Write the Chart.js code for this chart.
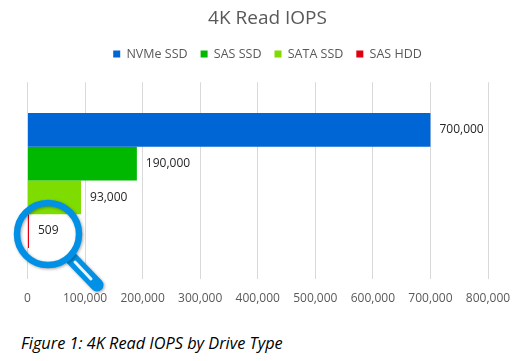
<!DOCTYPE html>
<html>
<head>
<meta charset="utf-8">
<style>
    html, body { margin: 0; padding: 0; background: #fff; }
    #wrap { position: relative; width: 529px; height: 361px; overflow: hidden; }
    canvas { display: block; }
    #caption {
        position: absolute; left: 21px; top: 332px; margin: 0;
        font: italic 16.3px "Open Sans", sans-serif; color: #000; white-space: nowrap;
    }
</style>
<script src="https://cdn.jsdelivr.net/npm/chart.js@4"></script>
</head>
<body>
<div id="wrap">
    <canvas id="chart" width="529" height="319"></canvas>
    <p id="caption">Figure 1: 4K Read IOPS by Drive Type</p>
</div>
<script>
const categories = ["4K Read IOPS"];
const seriesNames = ["NVMe SSD", "SAS SSD", "SATA SSD", "SAS HDD"];
const seriesValues = [[700000], [190000], [93000], [509]];
const seriesColors = ["#0066D6", "#00B800", "#7FDC00", "#E00012"];
const xMax = 800000;
const xStep = 100000;

const fontFamily = "'Open Sans', sans-serif";

// value labels just right of each bar
const barLabels = {
    id: "barLabels",
    afterDatasetsDraw(chart) {
        const ctx = chart.ctx;
        ctx.save();
        ctx.font = "12px " + fontFamily;
        ctx.fillStyle = "#262626";
        ctx.textBaseline = "middle";
        chart.data.datasets.forEach((ds, i) => {
            const bar = chart.getDatasetMeta(i).data[0];
            ctx.fillText(ds.data[0].toLocaleString("en-US"), bar.x + 9, bar.y);
        });
        ctx.restore();
    },
};

// magnifying glass over the HDD bar
const magnifier = {
    id: "magnifier",
    afterDraw(chart) {
        const ctx = chart.ctx;
        const bar = chart.getDatasetMeta(3).data[0];
        const cx = chart.scales.x.getPixelForValue(0) + 20.5;
        const cy = bar.y + 3;
        ctx.save();
        ctx.shadowColor = "rgba(0,0,0,0.35)";
        ctx.shadowBlur = 3;
        ctx.shadowOffsetX = 1;
        ctx.shadowOffsetY = 1;
        ctx.strokeStyle = "#0091E6";
        ctx.lineCap = "round";
        ctx.lineWidth = 13;
        ctx.beginPath();
        ctx.moveTo(cx + 24, cy + 25);
        ctx.lineTo(cx + 49, cy + 51);
        ctx.stroke();
        ctx.lineWidth = 6.5;
        ctx.beginPath();
        ctx.arc(cx, cy, 31, 0, Math.PI * 2);
        ctx.stroke();
        ctx.shadowColor = "transparent";
        ctx.strokeStyle = "#EAF6FC";
        ctx.lineWidth = 3;
        ctx.beginPath();
        ctx.moveTo(cx + 27, cy + 28);
        ctx.lineTo(cx + 43, cy + 45);
        ctx.stroke();
        ctx.restore();
    },
};

new Chart(document.getElementById("chart"), {
    type: "bar",
    data: {
        labels: categories,
        datasets: seriesNames.map((name, i) => ({
            label: name,
            data: seriesValues[i],
            backgroundColor: seriesColors[i],
            categoryPercentage: 0.687,
            barPercentage: 1,
            minBarLength: 1.5,
        })),
    },
    options: {
        indexAxis: "y",
        responsive: false,
        animation: false,
        layout: {
            padding: { left: 6, right: 0, top: 7, bottom: 0 },
        },
        plugins: {
            tooltip: { enabled: false },
            title: {
                display: true,
                text: "4K Read IOPS",
                color: "#595959",
                font: { family: fontFamily, size: 19, weight: "400" },
                padding: { top: 0, bottom: 5 },
            },
            legend: {
                position: "top",
                labels: {
                    boxWidth: 7,
                    boxHeight: 7,
                    padding: 13,
                    color: "#595959",
                    font: { family: fontFamily, size: 12.5 },
                },
            },
        },
        scales: {
            x: {
                min: 0,
                max: xMax,
                ticks: {
                    stepSize: xStep,
                    maxRotation: 0,
                    autoSkip: false,
                    padding: 13,
                    color: "#595959",
                    font: { family: fontFamily, size: 12 },
                    callback: (v) => v.toLocaleString("en-US"),
                },
                grid: { color: "#D9D9D9", drawTicks: false },
                border: { display: false },
            },
            // empty axis, only holds the gap between legend and plot
            xTop: {
                axis: "x",
                position: "top",
                ticks: { display: false },
                grid: { display: false },
                border: { display: false },
                afterFit: (axis) => { axis.height = 12; },
            },
            y: {
                ticks: { display: false },
                grid: { display: false },
                border: { display: false },
                afterFit: (axis) => { axis.width = 21.5; },
            },
            // empty axis, only keeps the plot clear of the right edge
            yRight: {
                axis: "y",
                position: "right",
                ticks: { display: false },
                grid: { display: false },
                border: { display: false },
                afterFit: (axis) => { axis.width = 41; },
            },
        },
    },
    plugins: [barLabels, magnifier],
});
</script>
</body>
</html>
